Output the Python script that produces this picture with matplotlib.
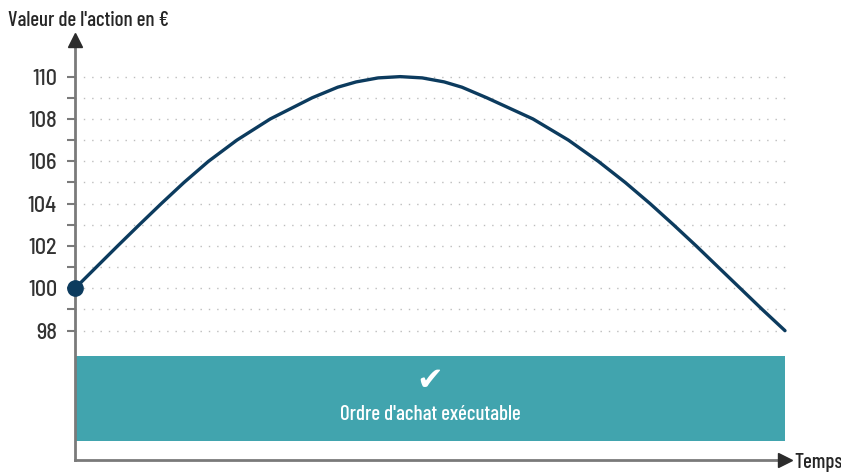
import matplotlib.pyplot as plt
import numpy as np

plt.rcParams['font.family'] = ['Barlow Condensed', 'Liberation Sans Narrow', 'DejaVu Sans']
plt.rcParams['font.weight'] = 500

# curve (time in % of the axis, price in EUR)
temps = [0, 3.0, 6.0, 9.05, 12.15, 15.35, 18.8, 22.8, 27.5, 33.4, 37.0, 39.6, 42.7, 45.8,
         48.9, 52.0, 54.5, 58.0, 64.5, 69.5, 73.7, 77.5, 81.0, 84.3, 87.5, 90.6, 93.7, 96.8, 100]
valeur = [100, 101, 102, 103, 104, 105, 106, 107, 108, 109, 109.5, 109.75, 109.94, 110,
          109.94, 109.75, 109.5, 109, 108, 107, 106, 105, 104, 103, 102, 101, 100, 99, 98]
yticks = [98, 100, 102, 104, 106, 108, 110]
minor_ticks = [99, 101, 103, 105, 107, 109]
grid_levels = list(range(98, 111))
zone_bas, zone_haut = 92.8, 96.8

navy = '#0c3b5e'
teal = '#41a4ae'
axis_grey = '#7a7a7a'
text_col = '#262626'

fig = plt.figure(figsize=(8.41, 4.75), dpi=100)
ax = fig.add_axes([75/841, 1-460/475, 710/841, 420/475])
ax.set_xlim(0, 100)
ax.set_ylim(91.89, 111.73)

# dotted grid
for g in grid_levels:
    ax.plot([0, 100.3], [g, g], color='#bdbdbd', lw=1, ls=(0, (1, 5)), zorder=1, clip_on=False)

# executable zone
ax.fill_between([0, 100], zone_bas, zone_haut, color=teal, lw=0, zorder=2)
ax.text(50, 95.6, '\u2714', color='white', ha='center', va='center', fontsize=23,
        family=['DejaVu Sans'], zorder=3)
ax.text(50, 94.05, "Ordre d'achat exécutable", color='white', ha='center', va='center',
        fontsize=15, zorder=3)

# price curve
ax.plot(temps, valeur, color=navy, lw=2.4, solid_capstyle='round', solid_joinstyle='round',
        zorder=4, clip_on=False)
ax.plot(temps[0], valeur[0], 'o', color=navy, ms=11, zorder=5, clip_on=False)

# axes with arrows
for s in ['top', 'right']:
    ax.spines[s].set_visible(False)
for s in ['left', 'bottom']:
    ax.spines[s].set_color(axis_grey)
    ax.spines[s].set_linewidth(2)
ax.plot(0, 1, '^', color='#2b2b2b', ms=10, transform=ax.transAxes, clip_on=False, zorder=6)
ax.plot(1, 0, '>', color='#2b2b2b', ms=10, transform=ax.transAxes, clip_on=False, zorder=6)

ax.set_xticks([])
ax.set_yticks(yticks)
ax.set_yticks(minor_ticks, minor=True)
ax.tick_params(axis='y', which='both', direction='out', length=6, width=1.5, color=axis_grey,
               pad=7)
for lab in ax.get_yticklabels():
    lab.set_family(['Barlow Semi Condensed', 'Barlow Condensed', 'DejaVu Sans'])
    lab.set_fontsize(16)
    lab.set_color('#333333')

fig.text(8/841, 1-20/475, "Valeur de l'action en €", fontsize=15, color=text_col,
         ha='left', va='center')
fig.text(794/841, 1-462/475, 'Temps', fontsize=15, color=text_col, ha='left', va='center')

fig.savefig('out.png', dpi=100)
